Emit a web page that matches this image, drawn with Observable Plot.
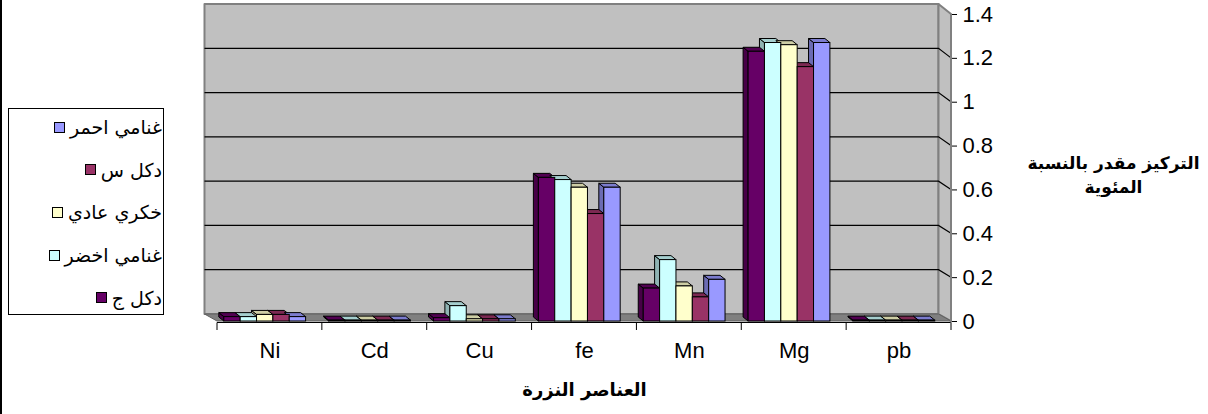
<!DOCTYPE html>
<html>
<head>
<meta charset="utf-8">
<script src="https://cdn.jsdelivr.net/npm/d3@7"></script>
<script src="https://cdn.jsdelivr.net/npm/@observablehq/plot@0.6"></script>
<style>
  body { margin: 0; background: #fff; }
  #chart { position: relative; width: 1208px; height: 414px; font-family: "Liberation Sans", Arial, "DejaVu Sans", sans-serif; }
  #chart svg { position: absolute; left: 0; top: 0; }
  #frameline { position: absolute; left: 0; top: 0; width: 2px; height: 414px; background: #000; }
  #legend { position: absolute; left: 8px; top: 108px; width: 156px; height: 207px; box-sizing: border-box;
            border: 1px solid #000; background: #fff; }
  #legend .item { position: absolute; right: 1px; height: 24px; display: flex; flex-direction: row-reverse; align-items: center;
                  gap: 5px; font-size: 19px; font-family: "DejaVu Sans", sans-serif; direction: rtl; white-space: nowrap; }
  #legend .sw { width: 9px; height: 9px; border: 1px solid #000; }
</style>
</head>
<body>
<div id="chart"><div id="frameline"></div></div>
<script>
// Trace elements (category axis)
const elements = ["Ni", "Cd", "Cu", "fe", "Mn", "Mg", "pb"];

// Sample series, in drawing order left to right inside each group
const seriesNames = ["دكل ج", "غنامي اخضر", "خكري عادي", "دكل س", "غنامي احمر"];
const seriesColors = ["#660066", "#ccffff", "#ffffcc", "#993366", "#9999ff"];

// Concentration (%) per element, one array per sample
const dakalJ        = [0.02, 0.004, 0.015, 0.655, 0.15, 1.23, 0.004];
const ghanamiAkhdar = [0.02, 0.004, 0.07,  0.645, 0.28, 1.27, 0.004];
const khakriAadi    = [0.03, 0.004, 0.01,  0.61,  0.16, 1.26, 0.004];
const dakalS        = [0.03, 0.004, 0.01,  0.49,  0.11, 1.16, 0.004];
const ghanamiAhmar  = [0.02, 0.004, 0.01,  0.61,  0.19, 1.27, 0.004];

const yTicks = [0, 0.2, 0.4, 0.6, 0.8, 1, 1.2, 1.4];
const xTitle = "العناصر النزرة";
const yTitle = ["التركيز مقدر بالنسبة", "المئوية"];

const seriesValues = [dakalJ, ghanamiAkhdar, khakriAadi, dakalS, ghanamiAhmar];

// Column geometry inside one category band (band = 1 unit of x)
const groupOffset = 0.065, colWidth = 0.156;
const rows = [];
elements.forEach((el, i) => {
  seriesValues.forEach((vals, j) => {
    const x1 = i + groupOffset + j * colWidth;
    rows.push({element: el, series: seriesNames[j], color: seriesColors[j], i, j, x1, x2: x1 + colWidth, value: vals[i]});
  });
});

// 3D look: depth of columns and of the walls, in pixels
const colDepth = [5, 4];
const wallDX = 12.5;
const wallDY = v => 7 + 3 * v / 1.4;

const poly = (g, pts, fill, stroke, sw) =>
  g.append("polygon").attr("points", pts.map(p => p.join(",")).join(" "))
   .attr("fill", fill).attr("stroke", stroke).attr("stroke-width", sw).attr("stroke-linejoin", "round");

// Back wall, floor, side wall, gridlines and category ticks
function walls(index, scales) {
  const {x, y} = scales;
  const g = d3.create("svg:g");
  const xl = x(0), xr = x(elements.length);
  const y0 = y(0), yTop = y(1.4);
  const bl = xl - wallDX, br = xr - wallDX;
  const by = v => y(v) - wallDY(v);
  poly(g, [[bl, by(1.4)], [br, by(1.4)], [br, by(0)], [bl, by(0)]], "#c0c0c0", "#808080", 2);
  poly(g, [[br, by(1.4)], [xr, yTop], [xr, y0], [br, by(0)]], "#c0c0c0", "#808080", 2);
  poly(g, [[bl, by(0)], [br, by(0)], [xr, y0], [xl, y0]], "#808080", "#606060", 1);
  for (const v of yTicks.filter(v => v > 0 && v < 1.4)) {
    g.append("path").attr("d", `M${bl},${by(v)}H${br}L${xr},${y(v)}`)
      .attr("fill", "none").attr("stroke", "#000").attr("stroke-width", 1.2);
  }
  g.append("path").attr("d", `M${xl},${y0 + 1.5}H${xr}`).attr("stroke", "#000").attr("stroke-width", 1.2);
  for (let k = 0; k <= elements.length; k++) {
    g.append("path").attr("d", `M${x(k)},${y0 + 1.5}V${y0 + 9}`).attr("stroke", "#000").attr("stroke-width", 1);
  }
  g.append("path").attr("d", `M${xr},${yTop}V${y0 + 1.5}`).attr("stroke", "#808080").attr("stroke-width", 2);
  return g.node();
}

// Left side faces of the columns
function sideFaces(index, scales) {
  const {x, y} = scales;
  const [dx, dy] = colDepth;
  const g = d3.create("svg:g");
  for (const d of rows) {
    const x0 = x(d.x1), yt = y(d.value), yb = y(0);
    poly(g, [[x0, yb], [x0, yt], [x0 - dx, yt - dy], [x0 - dx, yb - dy]],
      d3.color(d.color).darker(1.0).formatHex(), "#000", 1);
  }
  return g.node();
}

// Top faces of the columns
function topFaces(index, scales) {
  const {x, y} = scales;
  const [dx, dy] = colDepth;
  const g = d3.create("svg:g");
  for (const d of rows) {
    const x0 = x(d.x1), x1 = x(d.x2), yt = y(d.value);
    poly(g, [[x0, yt], [x1, yt], [x1 - dx, yt - dy], [x0 - dx, yt - dy]],
      d3.color(d.color).darker(0.6).formatHex(), "#000", 1);
  }
  return g.node();
}

const fmt = v => String(+v.toFixed(1));

const chart = Plot.plot({
  width: 1208,
  height: 414,
  marginLeft: 217,
  marginRight: 257,
  marginTop: 14,
  marginBottom: 93,
  style: {fontFamily: '"Liberation Sans", Arial, "DejaVu Sans", sans-serif', fontSize: "22px", background: "transparent", overflow: "visible", color: "#000"},
  x: {type: "linear", domain: [0, elements.length], ticks: elements.map((_, i) => i + 0.5),
      tickFormat: v => elements[Math.floor(v)], tickSize: 0, tickPadding: 21, label: null, line: false},
  y: {domain: [0, 1.4], ticks: yTicks, tickFormat: fmt, axis: "right", tickSize: 5, tickPadding: 6, label: null, line: false},
  marks: [
    walls,
    sideFaces,
    topFaces,
    Plot.rect(rows, {x1: "x1", x2: "x2", y1: 0, y2: "value", fill: "color", stroke: "#000", strokeWidth: 1}),
    Plot.text([xTitle], {frameAnchor: "bottom", dy: 74, fontWeight: "bold", fontSize: 18, fontFamily: '"DejaVu Sans", sans-serif'}),
    Plot.text([yTitle.join("\n")], {frameAnchor: "right", dx: 162, dy: 5, fontWeight: "bold", fontSize: 17,
      lineHeight: 1.45, textAnchor: "middle", fontFamily: '"DejaVu Sans", sans-serif'})
  ]
});

const root = document.getElementById("chart");
root.appendChild(chart);

// Legend box, listed from the last series to the first
const legend = document.createElement("div");
legend.id = "legend";
[...seriesNames.keys()].reverse().forEach((j, k) => {
  const item = document.createElement("div");
  item.className = "item";
  item.style.top = (6 + k * 42.7) + "px";
  const sw = document.createElement("span");
  sw.className = "sw";
  sw.style.background = seriesColors[j];
  const label = document.createElement("span");
  label.textContent = seriesNames[j];
  item.append(sw, label);
  legend.appendChild(item);
});
root.appendChild(legend);
</script>
</body>
</html>
